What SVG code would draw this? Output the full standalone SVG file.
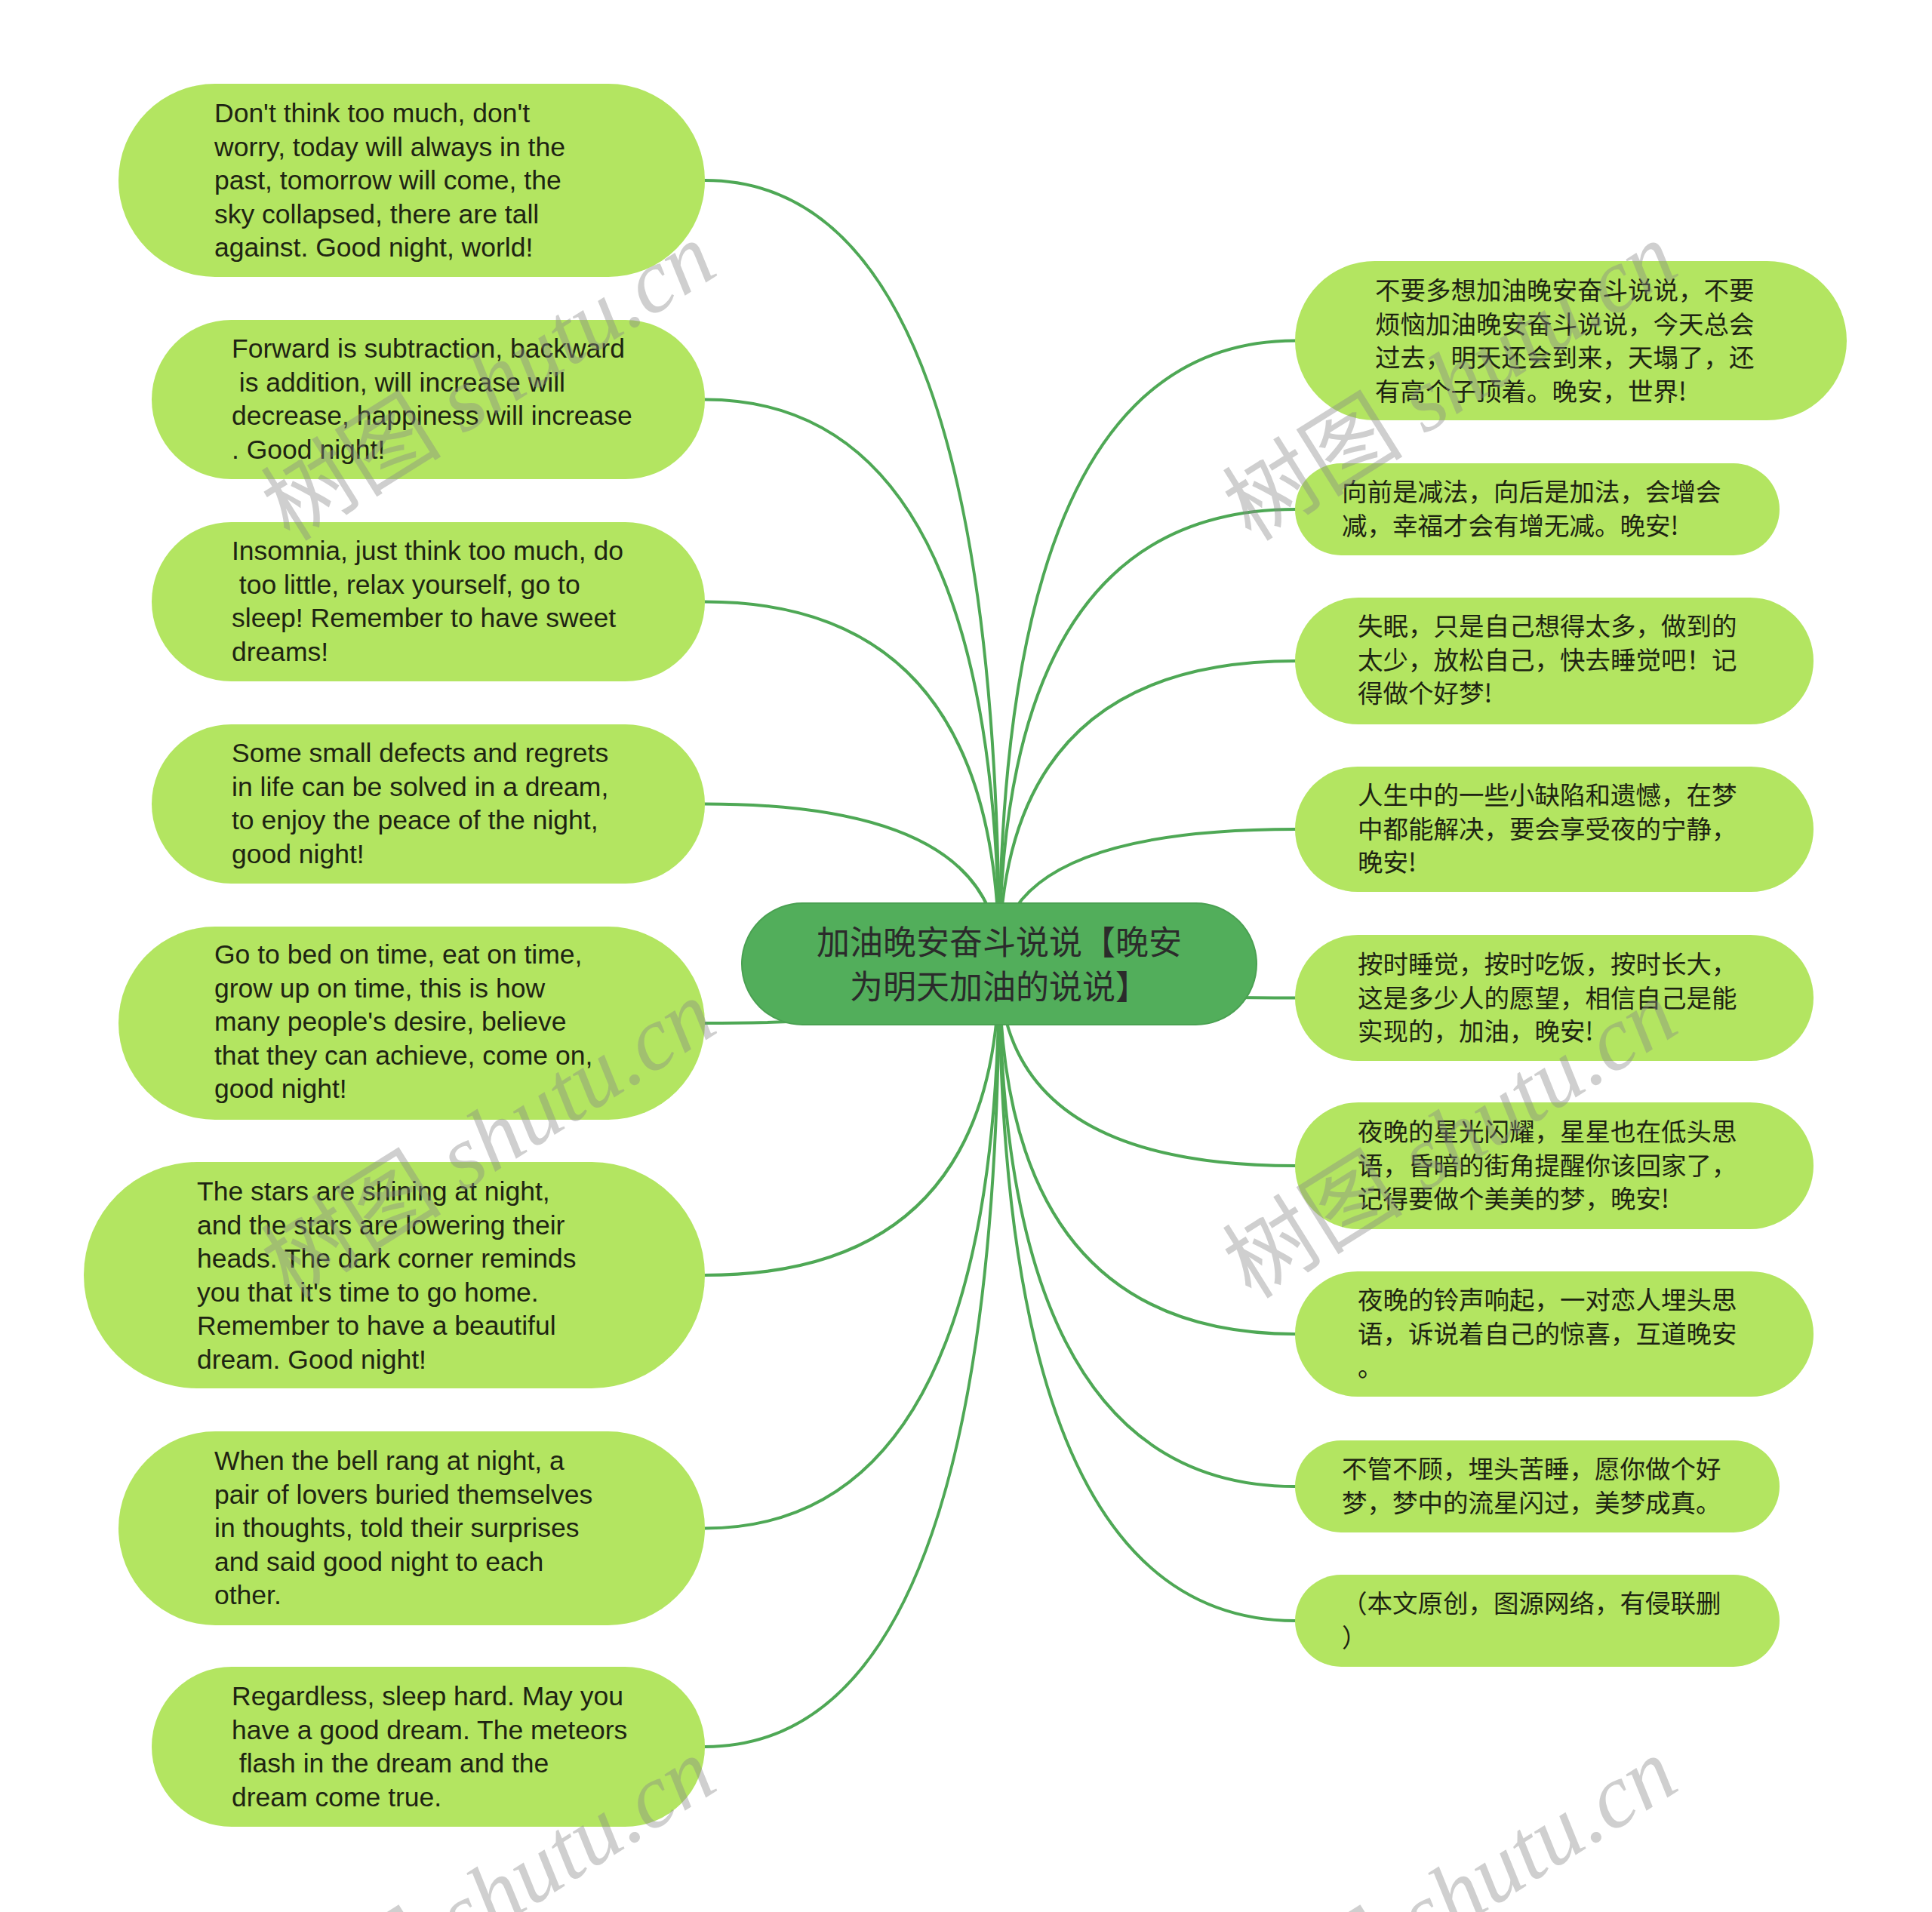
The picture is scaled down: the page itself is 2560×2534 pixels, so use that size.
<svg xmlns="http://www.w3.org/2000/svg" width="2560" height="2534" viewBox="0 0 2560 2534">
<style>
.bg{fill:#ffffff}
.leaf{fill:#b3e561}
.root{fill:#52ae5b;stroke:#4aa152;stroke-width:2}
.edge{fill:none;stroke:#4ea855;stroke-width:4;stroke-linecap:round}
.en{font-family:"Liberation Sans","Noto Sans CJK SC",Arial,sans-serif;font-size:35.5px;fill:#1e2412}
.zh{font-family:"Noto Sans CJK SC","Liberation Sans",sans-serif;font-size:33.5px;fill:#1e2412}
.rt{font-family:"Noto Sans CJK SC","Liberation Sans",sans-serif;font-size:44px;fill:#2b2b2b;text-anchor:middle}
.wm{font-family:"Liberation Serif","Noto Sans CJK SC",serif;font-size:120px;fill:#888888;opacity:0.4}
.wm .i{font-style:italic}
</style>
<rect class="bg" x="0" y="0" width="2560" height="2534"/>
<g id="connectors">
<path class="edge" d="M934,239 Q1324,239 1324,1277"/>
<path class="edge" d="M934,529.5 Q1324,529.5 1324,1277"/>
<path class="edge" d="M934,797.5 Q1324,797.5 1324,1277"/>
<path class="edge" d="M934,1065.5 Q1324,1065.5 1324,1277"/>
<path class="edge" d="M934,1356 Q1324,1356 1324,1277"/>
<path class="edge" d="M934,1690 Q1324,1690 1324,1277"/>
<path class="edge" d="M934,2025.5 Q1324,2025.5 1324,1277"/>
<path class="edge" d="M934,2315 Q1324,2315 1324,1277"/>
<path class="edge" d="M1716,451.5 Q1324,451.5 1324,1277"/>
<path class="edge" d="M1716,675 Q1324,675 1324,1277"/>
<path class="edge" d="M1716,876 Q1324,876 1324,1277"/>
<path class="edge" d="M1716,1099 Q1324,1099 1324,1277"/>
<path class="edge" d="M1716,1322.5 Q1324,1322.5 1324,1277"/>
<path class="edge" d="M1716,1545 Q1324,1545 1324,1277"/>
<path class="edge" d="M1716,1768 Q1324,1768 1324,1277"/>
<path class="edge" d="M1716,1970 Q1324,1970 1324,1277"/>
<path class="edge" d="M1716,2148 Q1324,2148 1324,1277"/>
</g>
<g id="root">
<rect class="root" x="983" y="1197" width="682" height="161" rx="80.5"/>
<text class="rt" x="1324" y="1265">加油晚安奋斗说说【晚安</text>
<text class="rt" x="1324" y="1324">为明天加油的说说】</text>
</g>
<g id="l1">
<rect class="leaf" x="157" y="111" width="777" height="256" rx="128"/>
<text class="en" x="284" y="162">Don't think too much, don't</text>
<text class="en" x="284" y="206.5">worry, today will always in the</text>
<text class="en" x="284" y="251">past, tomorrow will come, the</text>
<text class="en" x="284" y="295.5">sky collapsed, there are tall</text>
<text class="en" x="284" y="340">against. Good night, world!</text>
</g>
<g id="l2">
<rect class="leaf" x="201" y="424" width="733" height="211" rx="105.5"/>
<text class="en" x="307" y="474">Forward is subtraction, backward</text>
<text class="en" x="307" y="518.5" xml:space="preserve"> is addition, will increase will</text>
<text class="en" x="307" y="563">decrease, happiness will increase</text>
<text class="en" x="307" y="607.5">. Good night!</text>
</g>
<g id="l3">
<rect class="leaf" x="201" y="692" width="733" height="211" rx="105.5"/>
<text class="en" x="307" y="742">Insomnia, just think too much, do</text>
<text class="en" x="307" y="786.5" xml:space="preserve"> too little, relax yourself, go to</text>
<text class="en" x="307" y="831">sleep! Remember to have sweet</text>
<text class="en" x="307" y="875.5">dreams!</text>
</g>
<g id="l4">
<rect class="leaf" x="201" y="960" width="733" height="211" rx="105.5"/>
<text class="en" x="307" y="1010">Some small defects and regrets</text>
<text class="en" x="307" y="1054.5">in life can be solved in a dream,</text>
<text class="en" x="307" y="1099">to enjoy the peace of the night,</text>
<text class="en" x="307" y="1143.5">good night!</text>
</g>
<g id="l5">
<rect class="leaf" x="157" y="1228" width="777" height="256" rx="128"/>
<text class="en" x="284" y="1277">Go to bed on time, eat on time,</text>
<text class="en" x="284" y="1321.5">grow up on time, this is how</text>
<text class="en" x="284" y="1366">many people's desire, believe</text>
<text class="en" x="284" y="1410.5">that they can achieve, come on,</text>
<text class="en" x="284" y="1455">good night!</text>
</g>
<g id="l6">
<rect class="leaf" x="111" y="1540" width="823" height="300" rx="150"/>
<text class="en" x="261" y="1591">The stars are shining at night,</text>
<text class="en" x="261" y="1635.5">and the stars are lowering their</text>
<text class="en" x="261" y="1680">heads. The dark corner reminds</text>
<text class="en" x="261" y="1724.5">you that it's time to go home.</text>
<text class="en" x="261" y="1769">Remember to have a beautiful</text>
<text class="en" x="261" y="1813.5">dream. Good night!</text>
</g>
<g id="l7">
<rect class="leaf" x="157" y="1897" width="777" height="257" rx="128.5"/>
<text class="en" x="284" y="1948">When the bell rang at night, a</text>
<text class="en" x="284" y="1992.5">pair of lovers buried themselves</text>
<text class="en" x="284" y="2037">in thoughts, told their surprises</text>
<text class="en" x="284" y="2081.5">and said good night to each</text>
<text class="en" x="284" y="2126">other.</text>
</g>
<g id="l8">
<rect class="leaf" x="201" y="2209" width="733" height="212" rx="106"/>
<text class="en" x="307" y="2260">Regardless, sleep hard. May you</text>
<text class="en" x="307" y="2304.5">have a good dream. The meteors</text>
<text class="en" x="307" y="2349" xml:space="preserve"> flash in the dream and the</text>
<text class="en" x="307" y="2393.5">dream come true.</text>
</g>
<g id="r1">
<rect class="leaf" x="1716" y="346" width="731" height="211" rx="105.5"/>
<text class="zh" x="1822" y="397">不要多想加油晚安奋斗说说，不要</text>
<text class="zh" x="1822" y="441.5">烦恼加油晚安奋斗说说，今天总会</text>
<text class="zh" x="1822" y="486">过去，明天还会到来，天塌了，还</text>
<text class="zh" x="1822" y="530.5">有高个子顶着。晚安，世界!</text>
</g>
<g id="r2">
<rect class="leaf" x="1716" y="614" width="642" height="122" rx="61"/>
<text class="zh" x="1778" y="664">向前是减法，向后是加法，会增会</text>
<text class="zh" x="1778" y="708.5">减，幸福才会有增无减。晚安!</text>
</g>
<g id="r3">
<rect class="leaf" x="1716" y="792" width="687" height="168" rx="84"/>
<text class="zh" x="1799" y="842">失眠，只是自己想得太多，做到的</text>
<text class="zh" x="1799" y="886.5">太少，放松自己，快去睡觉吧！记</text>
<text class="zh" x="1799" y="931">得做个好梦!</text>
</g>
<g id="r4">
<rect class="leaf" x="1716" y="1016" width="687" height="166" rx="83"/>
<text class="zh" x="1799" y="1066">人生中的一些小缺陷和遗憾，在梦</text>
<text class="zh" x="1799" y="1110.5">中都能解决，要会享受夜的宁静，</text>
<text class="zh" x="1799" y="1155">晚安!</text>
</g>
<g id="r5">
<rect class="leaf" x="1716" y="1239" width="687" height="167" rx="83.5"/>
<text class="zh" x="1799" y="1290">按时睡觉，按时吃饭，按时长大，</text>
<text class="zh" x="1799" y="1334.5">这是多少人的愿望，相信自己是能</text>
<text class="zh" x="1799" y="1379">实现的，加油，晚安!</text>
</g>
<g id="r6">
<rect class="leaf" x="1716" y="1461" width="687" height="168" rx="84"/>
<text class="zh" x="1799" y="1512">夜晚的星光闪耀，星星也在低头思</text>
<text class="zh" x="1799" y="1556.5">语，昏暗的街角提醒你该回家了，</text>
<text class="zh" x="1799" y="1601">记得要做个美美的梦，晚安!</text>
</g>
<g id="r7">
<rect class="leaf" x="1716" y="1685" width="687" height="166" rx="83"/>
<text class="zh" x="1799" y="1735">夜晚的铃声响起，一对恋人埋头思</text>
<text class="zh" x="1799" y="1779.5">语，诉说着自己的惊喜，互道晚安</text>
<text class="zh" x="1799" y="1824">。</text>
</g>
<g id="r8">
<rect class="leaf" x="1716" y="1909" width="642" height="122" rx="61"/>
<text class="zh" x="1778" y="1959">不管不顾，埋头苦睡，愿你做个好</text>
<text class="zh" x="1778" y="2003.5">梦，梦中的流星闪过，美梦成真。</text>
</g>
<g id="r9">
<rect class="leaf" x="1716" y="2087" width="642" height="122" rx="61"/>
<text class="zh" x="1778" y="2137">（本文原创，图源网络，有侵联删</text>
<text class="zh" x="1778" y="2181.5">）</text>
</g>
<g id="watermarks">
<text class="wm" x="384" y="719" transform="rotate(-32 384 719)"><tspan font-family="'Noto Sans CJK SC',sans-serif">树图</tspan><tspan class="i"> shutu.cn</tspan></text>
<text class="wm" x="1658" y="719" transform="rotate(-32 1658 719)"><tspan font-family="'Noto Sans CJK SC',sans-serif">树图</tspan><tspan class="i"> shutu.cn</tspan></text>
<text class="wm" x="384" y="1723" transform="rotate(-32 384 1723)"><tspan font-family="'Noto Sans CJK SC',sans-serif">树图</tspan><tspan class="i"> shutu.cn</tspan></text>
<text class="wm" x="1658" y="1723" transform="rotate(-32 1658 1723)"><tspan font-family="'Noto Sans CJK SC',sans-serif">树图</tspan><tspan class="i"> shutu.cn</tspan></text>
<text class="wm" x="384" y="2727" transform="rotate(-32 384 2727)"><tspan font-family="'Noto Sans CJK SC',sans-serif">树图</tspan><tspan class="i"> shutu.cn</tspan></text>
<text class="wm" x="1658" y="2727" transform="rotate(-32 1658 2727)"><tspan font-family="'Noto Sans CJK SC',sans-serif">树图</tspan><tspan class="i"> shutu.cn</tspan></text>
</g>
</svg>
